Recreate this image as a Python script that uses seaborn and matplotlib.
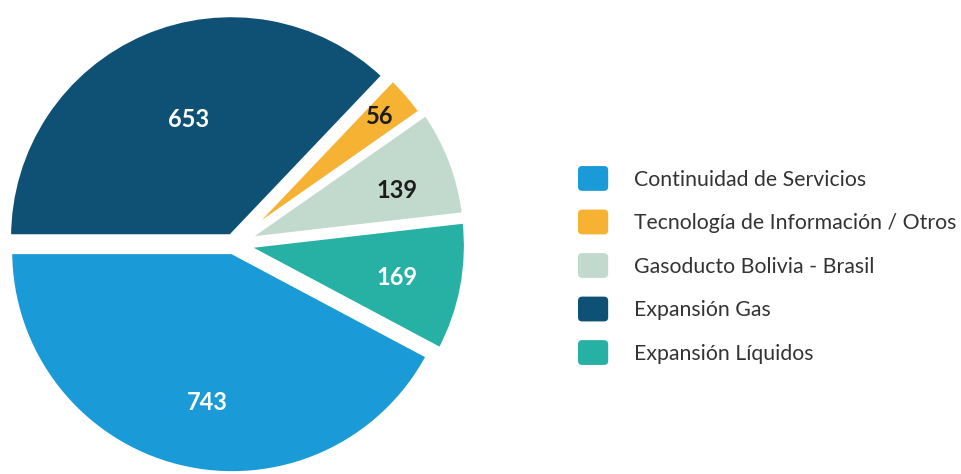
import matplotlib
matplotlib.use("Agg")
import matplotlib.pyplot as plt
import seaborn as sns
import numpy as np
from matplotlib.patches import Patch, FancyBboxPatch
from matplotlib.legend_handler import HandlerPatch

# slices in drawing order (counter-clockwise from the left)
categories = ["Continuidad de Servicios", "Expansión Líquidos", "Gasoducto Bolivia - Brasil",
              "Tecnología de Información / Otros", "Expansión Gas"]
values = [743, 169, 139, 56, 653]
slice_colors = ["#1a9bd7", "#27b0a4", "#c2dacd", "#f5b233", "#0f5075"]
label_colors = ["white", "white", "#1c1c1c", "#1c1c1c", "white"]

legend_order = ["Continuidad de Servicios", "Tecnología de Información / Otros",
                "Gasoducto Bolivia - Brasil", "Expansión Gas", "Expansión Líquidos"]

explode = [0.033, 0.045, 0.045, 0.03, 0.033]
# value labels: distance from wedge centre and small angle tweak (deg)
label_dist = [0.69, 0.701, 0.724, 0.839, 0.563]
label_turn = [4.6, -0.9, -2.9, 0.4, -3.4]

sns.set_theme(style="white")
plt.rcParams["font.family"] = ["Lato", "DejaVu Sans"]


class RoundBox(HandlerPatch):
    def create_artists(self, legend, orig_handle, xdescent, ydescent, width, height, fontsize, trans):
        p = FancyBboxPatch((-xdescent, -ydescent), width, height,
                           boxstyle="round,pad=0,rounding_size=3",
                           facecolor=orig_handle.get_facecolor(), edgecolor="none", transform=trans)
        return [p]


fig = plt.figure(figsize=(9.61, 4.74), dpi=100)
ax = fig.add_axes([0, 0, 0.5, 1])
wedges, _ = ax.pie(values, colors=slice_colors, startangle=180, counterclock=True,
                   explode=explode, radius=1,
                   wedgeprops=dict(linewidth=4.3, edgecolor="white", joinstyle="miter"))
scale = 223.0
ax.set_xlim(-234 / scale, (480.5 - 234) / scale)
ax.set_ylim(-230 / scale, 244 / scale)

for w, val, d, t, c in zip(wedges, values, label_dist, label_turn, label_colors):
    ang = np.deg2rad((w.theta1 + w.theta2) / 2 + t)
    cx, cy = w.center
    ax.text(cx + d * np.cos(ang), cy + d * np.sin(ang), str(val), color=c,
            fontsize=17, fontweight="bold", ha="center", va="center")

col = dict(zip(categories, slice_colors))
handles = [Patch(facecolor=col[n], label=n) for n in legend_order]
fig.legend(handles=handles, loc="center left", bbox_to_anchor=(578 / 961, 208.5 / 474),
           bbox_transform=fig.transFigure, frameon=False, fontsize=15.3,
           handlelength=1.42, handleheight=1.42, handletextpad=1.22, labelspacing=0.88,
           borderpad=0, borderaxespad=0, labelcolor="#333333",
           handler_map={Patch: RoundBox()})

fig.savefig("out.png", dpi=100)
